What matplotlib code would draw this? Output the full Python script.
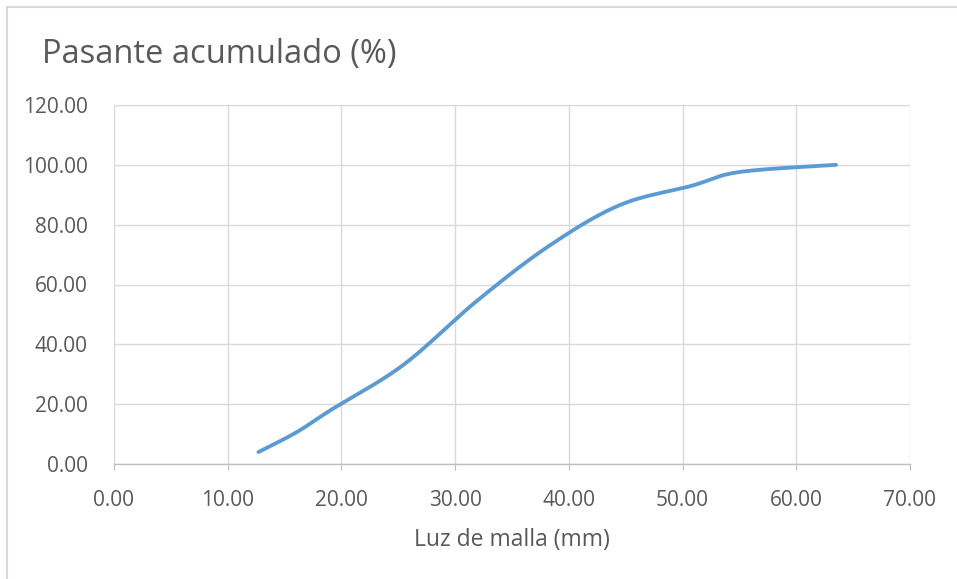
import numpy as np
import matplotlib
matplotlib.use("Agg")
import matplotlib.pyplot as plt
from matplotlib.lines import Line2D

# Data
luz_mm = [12.7, 16.0, 19.05, 25.4, 31.75, 38.1, 44.45, 50.8, 55.0, 63.5]
pasante = [4.0, 10.5, 18.0, 33.0, 54.0, 72.5, 86.5, 93.0, 97.6, 100.0]
x_ticks = [0, 10, 20, 30, 40, 50, 60, 70]
y_ticks = [0, 20, 40, 60, 80, 100, 120]
title = "Pasante acumulado (%)"
xlabel = "Luz de malla (mm)"

def excel_smooth(x, y, n=40):
    P = np.column_stack([x, y]).astype(float)
    pts = [P[0]]
    m = len(P)
    for i in range(m - 1):
        p0 = P[i - 1] if i > 0 else P[i]
        p1 = P[i]
        p2 = P[i + 1]
        p3 = P[i + 2] if i + 2 < m else P[i + 1]
        c1 = p1 + (p2 - p0) / 6.0
        c2 = p2 - (p3 - p1) / 6.0
        t = np.linspace(0, 1, n)[1:, None]
        b = ((1 - t) ** 3) * p1 + 3 * ((1 - t) ** 2) * t * c1 + 3 * (1 - t) * t ** 2 * c2 + t ** 3 * p2
        pts.extend(b)
    pts = np.array(pts)
    return pts[:, 0], pts[:, 1]

plt.rcParams['font.family'] = ['Open Sans', 'DejaVu Sans']
W, H = 957, 579
fig = plt.figure(figsize=(W / 100, H / 100), dpi=100)
fig.patch.set_facecolor('white')

# outer chart border (top and left visible)
fig.lines.append(Line2D([7 / W, 1.0], [1 - 7 / H, 1 - 7 / H], transform=fig.transFigure,
                        color='#d9d9d9', linewidth=1.5))
fig.lines.append(Line2D([7 / W, 7 / W], [0, 1 - 7 / H], transform=fig.transFigure,
                        color='#d9d9d9', linewidth=1.5))

ax = fig.add_axes([114 / W, 1 - 464 / H, (910 - 114) / W, (464 - 105) / H])
sx, sy = excel_smooth(luz_mm, pasante)
ax.plot(sx, sy, color='#5B9BD5', linewidth=2.75, solid_capstyle='round', zorder=3)

ax.set_xlim(0, 70)
ax.set_ylim(0, 120)
ax.set_xticks(x_ticks)
ax.set_yticks(y_ticks)
ax.set_xticklabels([f"{v:.2f}" for v in x_ticks])
ax.set_yticklabels([f"{v:.2f}" for v in y_ticks])
ax.grid(True, color='#d9d9d9', linewidth=1.0)
ax.set_axisbelow(True)
for s in ['top', 'right', 'left']:
    ax.spines[s].set_visible(False)
ax.spines['bottom'].set_color('#bfbfbf')
ax.spines['bottom'].set_linewidth(1.0)
ax.tick_params(axis='y', length=0, pad=19, labelsize=15, labelcolor='#595959')
ax.tick_params(axis='x', length=4, color='#bfbfbf', pad=15, labelsize=15, labelcolor='#595959')
ax.set_xlabel(xlabel, fontsize=16.5, color='#595959', labelpad=12)

fig.text(42 / W, 1 - 54 / H, title, fontsize=23.5, color='#595959', ha='left', va='center')

fig.savefig('out.png', dpi=100, facecolor='white')
